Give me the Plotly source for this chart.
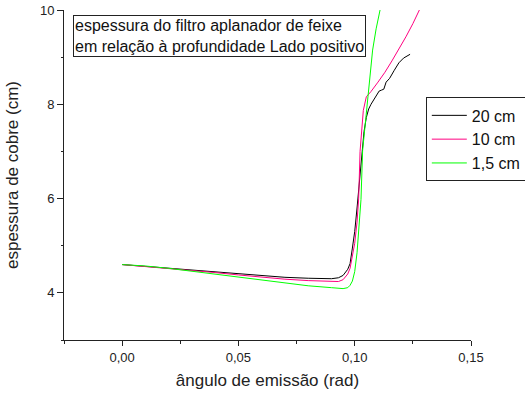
import plotly.graph_objects as go

x_20 = [0, 0.01, 0.02, 0.03, 0.04, 0.05, 0.06, 0.07, 0.08, 0.085, 0.09, 0.093, 0.095, 0.097, 0.098,
        0.099, 0.1, 0.101, 0.102, 0.103, 0.104, 0.105, 0.106, 0.107, 0.109, 0.1105, 0.1115, 0.1125,
        0.1135, 0.115, 0.117, 0.119, 0.121, 0.1238]
y_20 = [4.60, 4.56, 4.52, 4.48, 4.44, 4.40, 4.36, 4.33, 4.31, 4.30, 4.30, 4.32, 4.37, 4.50, 4.62,
        4.95, 5.30, 5.80, 6.40, 6.95, 7.42, 7.72, 7.90, 8.00, 8.15, 8.28, 8.30, 8.32, 8.47, 8.55,
        8.72, 8.88, 8.98, 9.06]

x_10 = [0, 0.01, 0.02, 0.03, 0.04, 0.05, 0.06, 0.07, 0.08, 0.09, 0.093, 0.095, 0.097, 0.098, 0.099,
        0.1, 0.101, 0.1017, 0.1023, 0.103, 0.1037, 0.105, 0.107, 0.110, 0.113, 0.116, 0.119, 0.122,
        0.125, 0.1278]
y_10 = [4.60, 4.56, 4.52, 4.48, 4.43, 4.38, 4.33, 4.29, 4.26, 4.24, 4.24, 4.28, 4.40, 4.52, 4.75,
        5.05, 5.50, 6.00, 7.00, 7.50, 7.87, 8.16, 8.27, 8.47, 8.68, 8.92, 9.16, 9.43, 9.71, 10.0]

x_15 = [0, 0.01, 0.02, 0.03, 0.04, 0.05, 0.06, 0.07, 0.08, 0.09, 0.093, 0.095, 0.097, 0.098, 0.099,
        0.1, 0.101, 0.102, 0.1027, 0.1034, 0.1045, 0.1056, 0.1067, 0.1077, 0.1092, 0.1109]
y_15 = [4.60, 4.57, 4.52, 4.46, 4.40, 4.33, 4.27, 4.21, 4.15, 4.11, 4.09, 4.09, 4.11, 4.16, 4.25,
        4.45, 4.85, 5.56, 5.98, 7.02, 7.60, 8.09, 8.62, 9.15, 9.60, 10.0]

series = [("20 cm", x_20, y_20, "#000000"),
          ("10 cm", x_10, y_10, "#FF0080"),
          ("1,5 cm", x_15, y_15, "#00FF00")]

x_ticks = [0.0, 0.05, 0.10, 0.15]
y_ticks = [4, 6, 8, 10]

fig = go.Figure()
for name, xs, ys, col in series:
    fig.add_trace(go.Scatter(x=xs, y=ys, mode="lines", name=name,
                             line=dict(color=col, width=1)))

font = "Arial, Liberation Sans, sans-serif"
fig.update_layout(
    width=525, height=396,
    margin=dict(l=64, r=54, t=10, b=56, autoexpand=False),
    paper_bgcolor="white", plot_bgcolor="white",
    separators=",.",
    font=dict(family=font, color="#222", size=13),
    showlegend=True,
    legend=dict(x=0.889, y=0.735, xanchor="left", yanchor="top",
                bordercolor="#222", borderwidth=1, bgcolor="white",
                font=dict(size=16, color="#111"), tracegroupgap=0,
                itemwidth=35),
    xaxis=dict(range=[-0.025, 0.15], tickvals=x_ticks, tickformat=".2f",
               showgrid=False, zeroline=False, showline=True, linecolor="#222",
               linewidth=1, ticks="outside", ticklen=5, tickcolor="#222",
               minor=dict(dtick=0.025, tick0=0, ticks="outside", ticklen=3, tickcolor="#222"),
               title=dict(text="ângulo de emissão (rad)", font=dict(size=17), standoff=10),
               tickfont=dict(size=13), automargin=False),
    yaxis=dict(range=[3, 10], tickvals=y_ticks,
               showgrid=False, zeroline=False, showline=True, linecolor="#222",
               linewidth=1, ticks="outside", ticklen=6, tickcolor="#222",
               minor=dict(dtick=1, tick0=3, ticks="outside", ticklen=2, tickcolor="#222"),
               title=dict(text="espessura de cobre (cm)", font=dict(size=17), standoff=16),
               tickfont=dict(size=13), automargin=False),
    annotations=[dict(xref="paper", yref="paper", x=0.022, y=0.985,
                      xanchor="left", yanchor="top", align="left", showarrow=False,
                      text="espessura do filtro aplanador de feixe<br>em relação à profundidade Lado positivo",
                      font=dict(size=16, color="#111"), bordercolor="#222", borderwidth=1,
                      borderpad=1, bgcolor="white")],
)

fig.write_html("out.html", config={"displayModeBar": False},
               post_script="document.body.style.margin='0';document.body.style.overflow='hidden';")
